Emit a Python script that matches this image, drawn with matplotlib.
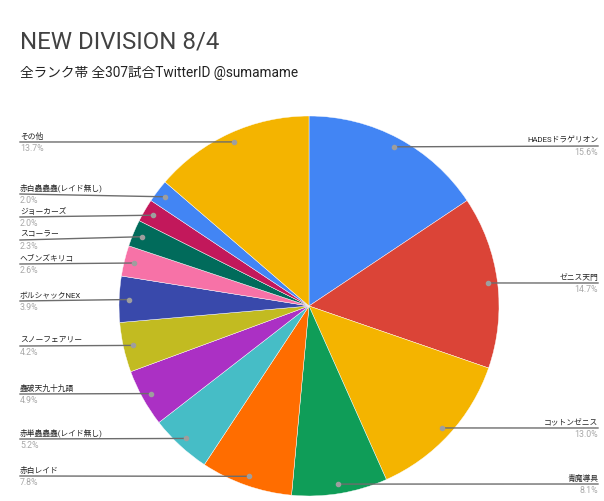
import matplotlib.pyplot as plt
import numpy as np

plt.rcParams['font.family'] = ['Roboto', 'Noto Sans CJK JP', 'DejaVu Sans']

# данные: колоды и количество матчей (из 307)
decks = ['HADESドラゲリオン', 'ゼニス天門', 'コットンゼニス', '青魔導具', '赤白レイド',
         '赤単蟲蟲蟲(レイド無し)', '蟲破天九十九語', 'スノーフェアリー', 'ボルシャックNEX',
         'ヘブンズキリコ', 'スコーラー', 'ジョーカーズ', '赤白蟲蟲蟲(レイド無し)', 'その他']
games = [48, 45, 40, 25, 24, 16, 15, 13, 12, 8, 7, 6, 6, 42]
pct_labels = ['15.6%', '14.7%', '13.0%', '8.1%', '7.8%', '5.2%', '4.9%', '4.2%', '3.9%',
              '2.6%', '2.3%', '2.0%', '2.0%', '13.7%']
colors = ['#4285F4', '#DB4437', '#F4B400', '#0F9D58', '#FF6D00', '#46BDC6', '#AB30C4',
          '#C2BB21', '#3949AB', '#F772A7', '#016B5B', '#C2185B', '#4285F4', '#F4B400']

# раскладка подписей (y линии в пикселях, сторона)
label_y = [146, 283, 428, 484, 476, 439, 394, 346, 301, 264, 240, 217, 194, 142]
side = ['r', 'r', 'r', 'r', 'l', 'l', 'l', 'l', 'l', 'l', 'l', 'l', 'l', 'l']

W, H = 604, 501
cx, cy, R = 309, 306, 190


def py(y):
    return H - y


fig = plt.figure(figsize=(W / 100, H / 100), dpi=100)
ax = fig.add_axes([0, 0, 1, 1])

wedges, _ = ax.pie(games, colors=colors, startangle=90, counterclock=False,
                   center=(cx, py(cy)), radius=R,
                   wedgeprops=dict(edgecolor='white', linewidth=0.3))

for w, name, pct, ly, s in zip(wedges, decks, pct_labels, label_y, side):
    ang = np.deg2rad((w.theta1 + w.theta2) / 2)
    dx = cx + 0.95 * R * np.cos(ang)
    dy = py(cy) + 0.95 * R * np.sin(ang)
    if s == 'r':
        x_end, ha = 598, 'right'
    else:
        x_end, ha = 20, 'left'
    ax.plot([dx, x_end], [dy, py(ly)], color='#6d6d6d', lw=1, zorder=3)
    ax.plot(dx, dy, 'o', color='#9e9e9e', ms=3, zorder=4)
    ax.text(x_end, py(ly) + 2, name, ha=ha, va='bottom', fontsize=5.6, color='#222222')
    ax.text(x_end, py(ly) - 2, pct, ha=ha, va='top', fontsize=6.3, color='#a8a8a8')

fig.text(20 / W, 1 - 48 / H, 'NEW DIVISION 8/4', fontsize=17.3, color='#424242',
         ha='left', va='baseline')
fig.text(20 / W, 1 - 77 / H, '全ランク帯 全307試合TwitterID @sumamame', fontsize=9.8,
         color='#222222', ha='left', va='baseline')

ax.set_xlim(0, W)
ax.set_ylim(0, H)
ax.set_aspect('equal')
ax.axis('off')

plt.savefig('out.png', dpi=100)
